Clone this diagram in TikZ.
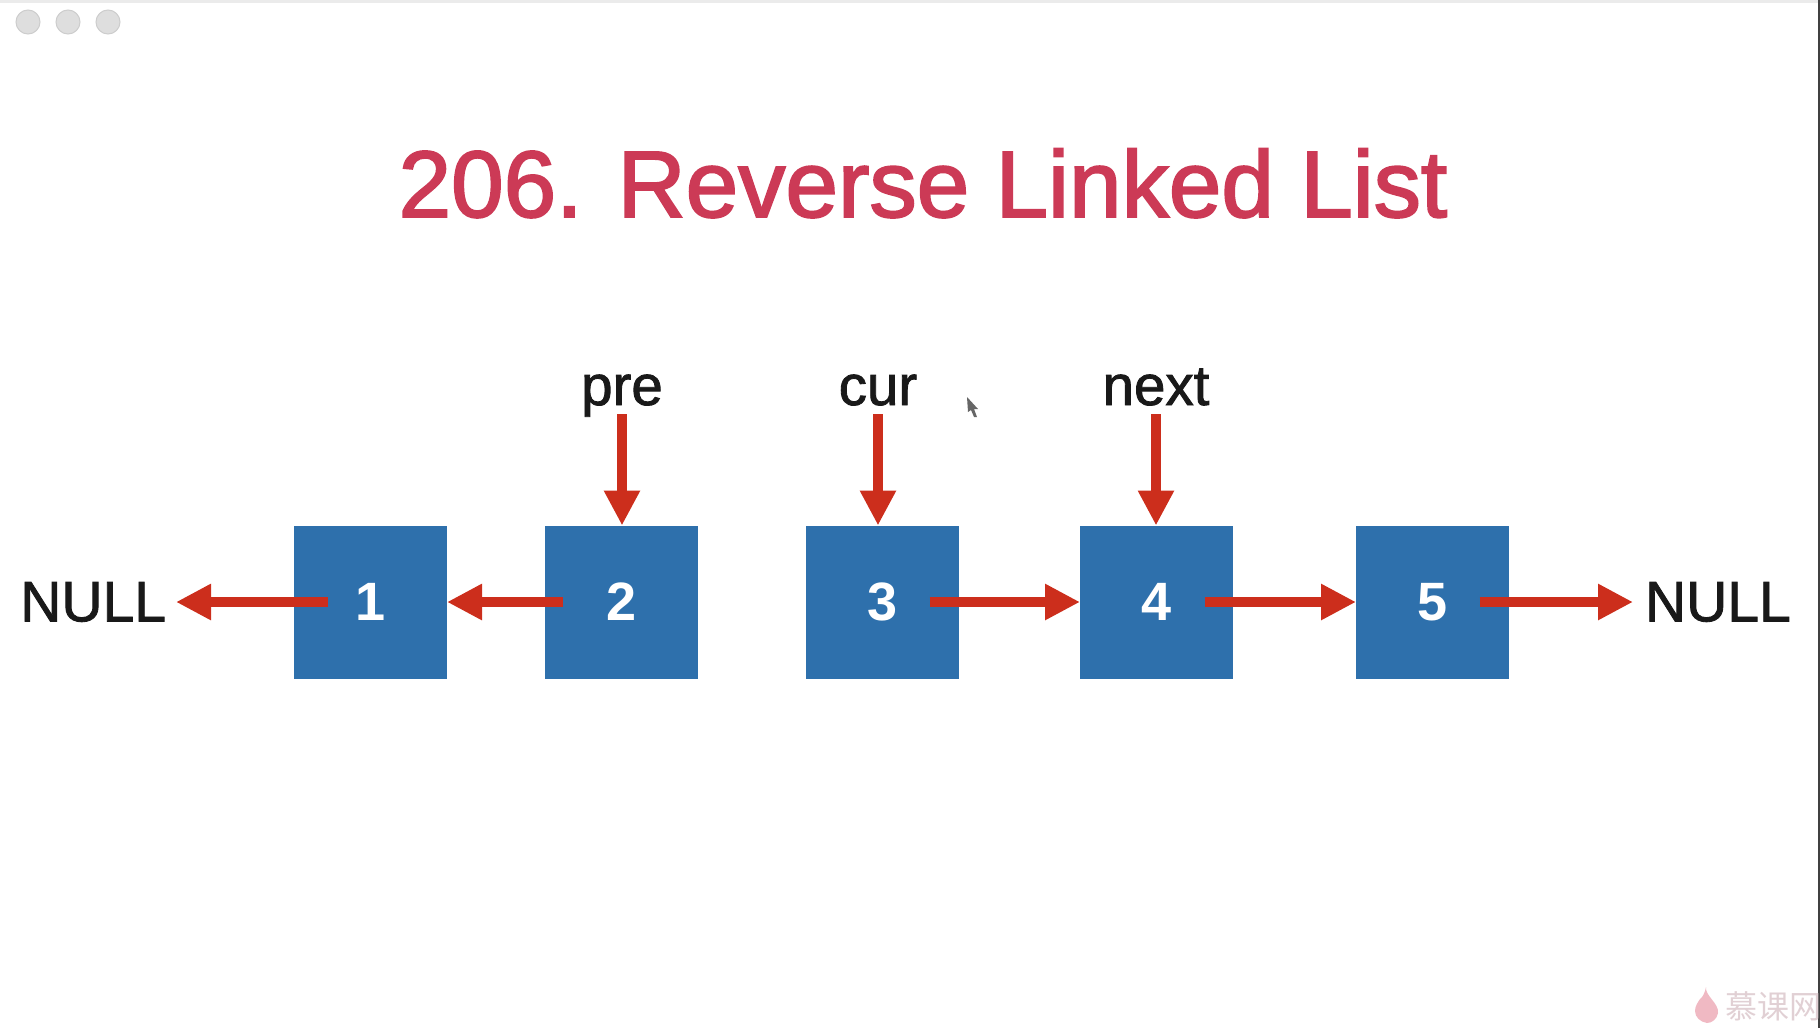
\documentclass[tikz,border=0pt]{standalone}
\usepackage{fontspec}
\setmainfont[FakeBold=1.5]{Liberation Sans}
\newfontfamily\titlefont[FakeBold=2]{Liberation Sans}
\newfontfamily\digitfont{Liberation Sans Bold}
\newfontfamily\cjkfont{Noto Sans CJK SC}
\usetikzlibrary{positioning, arrows.meta}
\definecolor{boxColor}{RGB}{46,112,172}
\definecolor{arrowColor}{RGB}{204,46,28}
\definecolor{titleColor}{RGB}{204,58,86}
\definecolor{textColor}{RGB}{25,25,25}
\definecolor{btnColor}{RGB}{222,222,222}
\definecolor{btnEdge}{RGB}{205,205,205}
\definecolor{markColor}{RGB}{225,208,212}
\definecolor{flameColor}{RGB}{240,185,195}
\tikzstyle{box}=[fill=boxColor, minimum size=153pt, inner sep=0pt, outer sep=0pt, text=white, font=\digitfont\fontsize{54}{60}\selectfont]
\tikzstyle{pointer}=[inner sep=0pt, outer sep=0pt, text depth=9pt, anchor=base, text=textColor, font=\fontsize{56.5}{60}\selectfont]
\tikzstyle{nullnode}=[inner sep=0pt, outer sep=0pt, text=textColor, font=\fontsize{57}{60}\selectfont]
\tikzstyle{arrow}=[-{Triangle[length=35pt, width=34pt]}, line width=9.5pt, draw=arrowColor]
\tikzstyle{button}=[circle, minimum size=24pt, inner sep=0pt, fill=btnColor, draw=btnEdge, line width=1pt]

\begin{document}
\begin{tikzpicture}[x=1pt, y=1pt]
      \useasboundingbox (0,0) rectangle (1820,-1028);
      \fill [black!8] (0,0) rectangle (1820,-3);
      \fill [black!75] (1817.5,0) rectangle (1820,-1028);
      \node (btn1) [button] at (28,-22) {};
      \node (btn2) [button, right=15pt of btn1] {};
      \node (btn3) [button, right=15pt of btn2] {};
      \node (title) [text=titleColor, font=\titlefont\fontsize{94.5}{100}\selectfont, anchor=base] at (923,-217) {206. Reverse Linked List};
      \node (box1) [box] at (370.5,-602) {1};
      \node (box2) [box, right=98pt of box1] {2};
      \node (box3) [box, right=108pt of box2] {3};
      \node (box4) [box, right=121pt of box3] {4};
      \node (box5) [box, right=123pt of box4] {5};
      \node (nullLeft) [nullnode, left=128pt of box1] {NULL};
      \node (nullRight) [nullnode, right=136pt of box5] {NULL};
      \node (pre) [pointer] at (622,-405) {pre};
      \node (cur) [pointer] at (878,-405) {cur};
      \node (next) [pointer] at (1156,-405) {next};
      \draw [arrow] (pre.south) -- (pre.south |- box2.north);
      \draw [arrow] (cur.south) -- (cur.south |- box3.north);
      \draw [arrow] (next.south) -- (next.south |- box4.north);
      \draw [arrow, shorten >=10pt] ([xshift=-43pt]box1.center) -- (nullLeft.east);
      \draw [arrow] ([xshift=-59pt]box2.center) -- (box1.east);
      \draw [arrow] ([xshift=47pt]box3.center) -- (box4.west);
      \draw [arrow] ([xshift=48pt]box4.center) -- (box5.west);
      \draw [arrow, shorten >=12pt] ([xshift=47pt]box5.center) -- (nullRight.west);
      \fill [black!60] (967,-397) -- (978,-409) -- (974,-409) -- (977,-417) -- (974,-417) -- (971,-410) -- (968,-412) -- cycle;
      \fill [flameColor] (1706,-987) .. controls (1705,-996) and (1719,-1003) .. (1718,-1013) .. controls (1717,-1019) and (1712,-1023) .. (1707,-1023) .. controls (1700,-1022) and (1695,-1017) .. (1695,-1011) .. controls (1695,-1006) and (1698,-1002) .. (1700,-999) .. controls (1702,-998) and (1705,-993) .. (1706,-987) -- cycle;
      \node (mark) [text=markColor, inner sep=0pt, anchor=west, font=\cjkfont\fontsize{32}{34}\selectfont] at (1725,-1006) {慕课网};
    \end{tikzpicture}
\end{document}
